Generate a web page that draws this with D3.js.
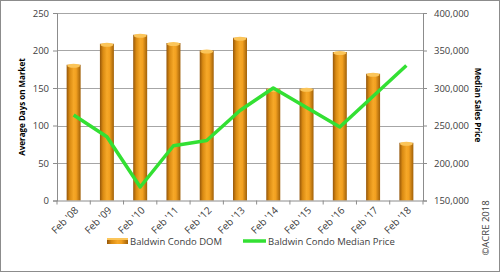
<!DOCTYPE html>
<html>
<head>
<meta charset="utf-8">
<script src="https://cdn.jsdelivr.net/npm/d3@7"></script>
<style>
  body { margin: 0; background: #fff; }
  text { font-family: "Open Sans", "Liberation Sans", sans-serif; }
</style>
</head>
<body>
<script>
// data
var years = ["Feb '08", "Feb '09", "Feb '10", "Feb '11", "Feb '12", "Feb '13",
             "Feb '14", "Feb '15", "Feb '16", "Feb '17", "Feb '18"];
var domValues = [181, 209, 221, 210, 200, 217, 149, 149, 198, 169, 77];
var priceValues = [264000, 235000, 168000, 223000, 230000, 270000,
                   300000, 274000, 248000, 289000, 330000];
var domTicks = [0, 50, 100, 150, 200, 250];
var priceTicks = [150000, 200000, 250000, 300000, 350000, 400000];

var W = 500, H = 273;
var plotLeft = 57, plotRight = 423, plotTop = 13, plotBottom = 200.5;

var svg = d3.select("body").append("svg")
  .attr("width", W).attr("height", H);

// gradient for the cylinder bars
var defs = svg.append("defs");
var grad = defs.append("linearGradient").attr("id", "barGrad")
  .attr("x1", "0%").attr("x2", "100%").attr("y1", "0%").attr("y2", "0%");
[["0%", "#94560a"], ["22%", "#d98a12"], ["50%", "#f6a828"], ["68%", "#f2a020"], ["100%", "#a06008"]]
  .forEach(function (s) { grad.append("stop").attr("offset", s[0]).attr("stop-color", s[1]); });

// outer frame
svg.append("rect").attr("x", 0.5).attr("y", 0.5).attr("width", W - 1).attr("height", H - 2)
  .attr("fill", "none").attr("stroke", "#8c8c8c");

var x = d3.scaleBand().domain(years).range([plotLeft, plotRight]).paddingInner(0.58).paddingOuter(0.29);
var yL = d3.scaleLinear().domain([0, 250]).range([plotBottom, plotTop]);
var yR = d3.scaleLinear().domain([150000, 400000]).range([plotBottom, plotTop]);

// gridlines
svg.append("g").selectAll("line").data(domTicks.slice(1)).join("line")
  .attr("x1", plotLeft).attr("x2", plotRight)
  .attr("y1", function (d) { return Math.round(yL(d)) + 0.5; })
  .attr("y2", function (d) { return Math.round(yL(d)) + 0.5; })
  .attr("stroke", "#a6a6a6").attr("stroke-width", 1);

// bars
var bars = svg.append("g");
bars.selectAll("rect").data(domValues).join("rect")
  .attr("x", function (d, i) { return x(years[i]); })
  .attr("y", function (d) { return yL(d); })
  .attr("width", x.bandwidth())
  .attr("height", function (d) { return plotBottom - yL(d); })
  .attr("fill", "url(#barGrad)");
bars.selectAll("ellipse").data(domValues).join("ellipse")
  .attr("cx", function (d, i) { return x(years[i]) + x.bandwidth() / 2; })
  .attr("cy", function (d) { return yL(d) + 1; })
  .attr("rx", x.bandwidth() / 2 - 0.5).attr("ry", 2)
  .attr("fill", "#fbc55a");

// axes
var axL = d3.axisLeft(yL).tickValues(domTicks).tickSize(4).tickPadding(4);
var gL = svg.append("g").attr("transform", "translate(" + plotLeft + ",0)").call(axL);
var axR = d3.axisRight(yR).tickValues(priceTicks).tickSize(4).tickPadding(7)
  .tickFormat(d3.format(","));
var gR = svg.append("g").attr("transform", "translate(" + plotRight + ",0)").call(axR);
var axB = d3.axisBottom(x).tickSize(0).tickPadding(6);
var gB = svg.append("g").attr("transform", "translate(0," + plotBottom + ")").call(axB);

[gL, gR, gB].forEach(function (g) {
  g.select(".domain").attr("stroke", "#8c8c8c");
  g.selectAll(".tick line").attr("stroke", "#8c8c8c");
  g.selectAll("text").attr("fill", "#404040").style("font-size", "9.5px");
});
gB.select(".domain").attr("d", "M" + plotLeft + ",0.5H" + plotRight);
// category separators on the x axis
gB.selectAll("line.sep").data(d3.range(years.length + 1)).join("line")
  .attr("class", "sep")
  .attr("x1", function (i) { return plotLeft + i * (plotRight - plotLeft) / years.length; })
  .attr("x2", function (i) { return plotLeft + i * (plotRight - plotLeft) / years.length; })
  .attr("y1", 0).attr("y2", 4).attr("stroke", "#8c8c8c");
gB.selectAll(".tick text")
  .style("font-size", "10px")
  .attr("text-anchor", "end")
  .attr("transform", "translate(-3,2) rotate(-45)")
  .attr("dy", "0.6em");

// price line
var line = d3.line()
  .x(function (d, i) { return x(years[i]) + x.bandwidth() / 2; })
  .y(function (d) { return yR(d); });
svg.append("path").datum(priceValues)
  .attr("d", line)
  .attr("fill", "none").attr("stroke", "#33e033")
  .attr("stroke-width", 3.5).attr("stroke-linejoin", "round");

// axis titles
svg.append("text").attr("transform", "translate(25,107) rotate(-90)")
  .attr("text-anchor", "middle").style("font-size", "8px").style("font-weight", "bold")
  .attr("fill", "#000").text("Average Days on Market");
svg.append("text").attr("transform", "translate(475,105) rotate(90)")
  .attr("text-anchor", "middle").style("font-size", "8px").style("font-weight", "bold")
  .attr("fill", "#000").text("Median Sales Price");
svg.append("text").attr("transform", "translate(489,228) rotate(-90)")
  .attr("text-anchor", "middle").style("font-size", "9.5px")
  .attr("fill", "#404040").text("\u00a9ACRE 2018");

// legend
var leg = svg.append("g");
leg.append("rect").attr("x", 107).attr("y", 238).attr("width", 21).attr("height", 6)
  .attr("fill", "url(#barGrad)");
leg.append("rect").attr("x", 107).attr("y", 238).attr("width", 21).attr("height", 2)
  .attr("fill", "#fbc55a");
leg.append("text").attr("x", 130).attr("y", 245).style("font-size", "9.5px")
  .attr("fill", "#404040").text("Baldwin Condo DOM");
leg.append("line").attr("x1", 243).attr("x2", 266).attr("y1", 241).attr("y2", 241)
  .attr("stroke", "#33e033").attr("stroke-width", 3.5);
leg.append("text").attr("x", 268).attr("y", 245).style("font-size", "9.5px")
  .attr("fill", "#404040").text("Baldwin Condo Median Price");
</script>
</body>
</html>
